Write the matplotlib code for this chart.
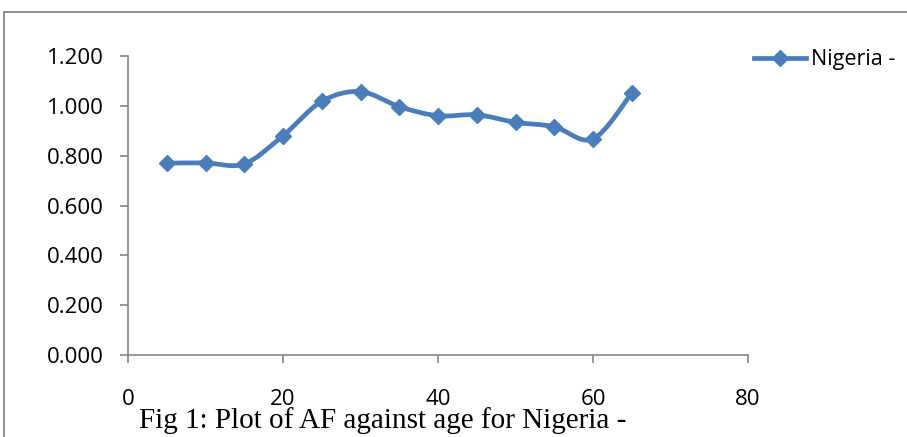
import matplotlib.pyplot as plt
import numpy as np
from matplotlib.path import Path
from matplotlib.patches import PathPatch, Rectangle
from matplotlib.lines import Line2D

# age groups and AF values
age = [5, 10, 15, 20, 25, 30, 35, 40, 45, 50, 55, 60, 65]
af = [0.770, 0.771, 0.767, 0.880, 1.018, 1.057, 0.997, 0.960, 0.964, 0.934, 0.916, 0.867, 1.051]
series_name = "Nigeria -"
caption = "Fig 1: Plot of AF against age for Nigeria -"
xticks = [0, 20, 40, 60, 80]
yticks = [0.0, 0.2, 0.4, 0.6, 0.8, 1.0, 1.2]

blue = "#4A7EBB"
grey = "#868686"
tick_font = "Open Sans"
fs = 16

fig = plt.figure(figsize=(9.07, 4.37), dpi=100)
ax = fig.add_axes([128 / 907, 82 / 437, 620 / 907, 299 / 437])

# Excel-style smoothed line (cubic bezier through the data points)
pts = np.column_stack([age, af])
ext = np.vstack([pts[0], pts, pts[-1]])
verts = [tuple(pts[0])]
codes = [Path.MOVETO]
for i in range(len(pts) - 1):
    p0, p1, p2, p3 = ext[i], ext[i + 1], ext[i + 2], ext[i + 3]
    c1 = p1 + (p2 - p0) / 6
    c2 = p2 - (p3 - p1) / 6
    verts += [tuple(c1), tuple(c2), tuple(p2)]
    codes += [Path.CURVE4] * 3
ax.add_patch(PathPatch(Path(verts, codes), facecolor="none", edgecolor=blue,
                       lw=3.4, capstyle="round", joinstyle="round", zorder=2))
ax.plot(age, af, linestyle="none", marker="D", markersize=8.6, color=blue, zorder=3)

ax.set_xlim(0, 80)
ax.set_ylim(0, 1.2)
ax.set_xticks(xticks)
ax.set_yticks(yticks)
ax.set_yticklabels([f"{v:.3f}" for v in yticks])
for s in ["top", "right"]:
    ax.spines[s].set_visible(False)
for s in ["left", "bottom"]:
    ax.spines[s].set_color(grey)
    ax.spines[s].set_linewidth(1.2)
ax.tick_params(axis="both", direction="out", length=5.5, width=1.2, color=grey,
               labelsize=fs, labelcolor="black")
ax.tick_params(axis="y", pad=12)
ax.tick_params(axis="x", pad=19)
for lab in ax.get_xticklabels() + ax.get_yticklabels():
    lab.set_fontfamily(tick_font)

# legend
handle = Line2D([], [], color=blue, lw=3.4, marker="D", markersize=8)
fig.legend([handle], [series_name], loc="center left", frameon=False,
           bbox_to_anchor=(754 / 907, 1 - 60 / 437), bbox_transform=fig.transFigure,
           borderpad=0, borderaxespad=0, handlelength=2.4, handletextpad=0.25,
           prop={"family": tick_font, "size": 15.5})

# chart area border
fig.patches.append(Rectangle((4 / 907, -0.1), 1.2, 1 - 12 / 437 + 0.1,
                             transform=fig.transFigure, fill=False,
                             edgecolor=grey, lw=1.3))

fig.text(139 / 907, 1 - 428 / 437, caption, family="Liberation Serif",
         fontsize=21, va="baseline", ha="left")

fig.savefig("out.png", dpi=100)
